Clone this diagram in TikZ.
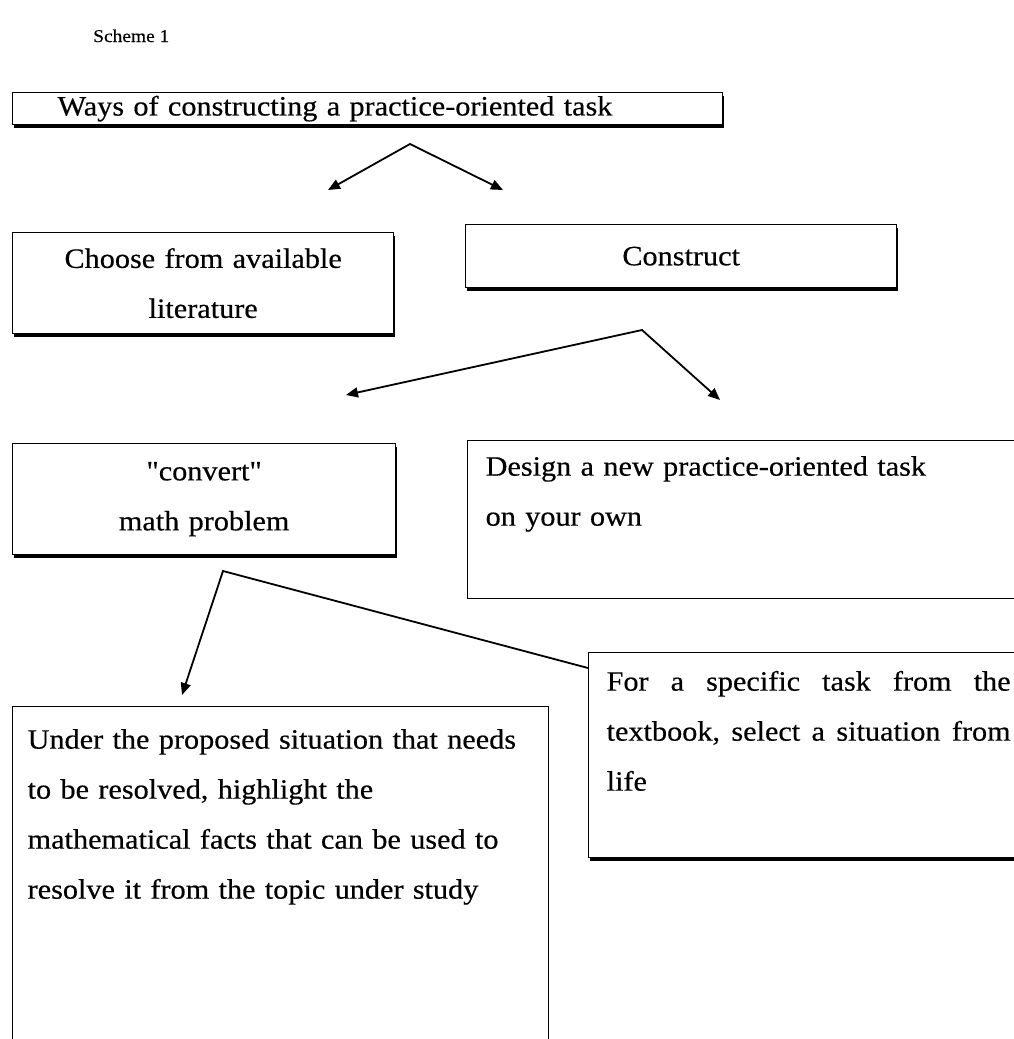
\documentclass[tikz,border=0pt]{standalone}
\usepackage{fontspec}
\setmainfont{Liberation Serif}[FakeStretch=1.08, FakeBold=0.4, Ligatures=TeXOff]
\usepackage{tikz}
\usetikzlibrary{arrows.meta,shadows}
\newcommand{\boxfont}{\fontsize{28}{50}\selectfont}
\tikzset{
  box/.style ={draw=black, fill=white, line width=1.3pt, inner ysep=0pt, font=\boxfont, anchor=north west},
  sbox/.style={box, drop shadow={shadow xshift=1pt, shadow yshift=-3pt, fill=black, opacity=1}},
  edge/.style={line width=1.8pt, line join=miter},
  tips/.style={{Triangle[length=12pt,width=10pt]}-{Triangle[length=12pt,width=10pt]}},
  tipl/.style={{Triangle[length=12pt,width=10pt]}-},
}

\begin{document}
\begin{tikzpicture}[x=1pt, y=-1pt]
  \useasboundingbox (0,0) rectangle (1014,1039);
  \clip (0,0) rectangle (1014,1039);

  \node[font=\fontsize{18}{22}\selectfont, anchor=base west, inner sep=0pt] (title) at (93,42) {Scheme 1};

  % top level
  \node[sbox, minimum width=710pt, minimum height=32pt, inner xsep=45pt, text width=620pt, align=left] (ways) at (12,92) {Ways of constructing a practice-oriented task};
  \coordinate (f1)  at (410,144);
  \coordinate (f1l) at (328,190);
  \coordinate (f1r) at (503,190);

  % choose / construct
  \node[sbox, minimum width=381pt, minimum height=101pt, inner xsep=0pt, text width=381pt, align=center] (choose) at (12,232) {Choose from available\\literature};
  \node[sbox, minimum width=431pt, minimum height=63pt, inner xsep=0pt, text width=431pt, align=center] (constr) at (465,224) {Construct};
  \coordinate (f2)  at (642,330);
  \coordinate (f2l) at (346,395);
  \coordinate (f2r) at (720,400);

  % convert / design
  \node[sbox, minimum width=383pt, minimum height=111pt, inner xsep=0pt, text width=383pt, align=center] (conv) at (12,443) {"convert"\\math problem};
  \node[box, inner xsep=18pt, text width=564pt, text height=35pt, text depth=123pt, align=left] (design) at (467,440) {Design a new practice-oriented task\\on your own};
  \coordinate (f3)  at (223,571);
  \coordinate (f3l) at (182,695);

  % bottom row
  \node[sbox, inner xsep=18pt, text width=414pt, text height=38pt, text depth=167pt, align=left] (sel) at (588,652) {\makebox[404pt][l]{For\hfill a\hfill specific\hfill task\hfill from\hfill the}\\\makebox[404pt][l]{textbook,\hfill select\hfill a\hfill situation\hfill from}\\life};
  \node[box, inner xsep=15pt, text width=506pt, text height=42pt, text depth=312pt, align=left] (under) at (12,706) {Under the proposed situation that needs\\to be resolved, highlight the\\mathematical facts that can be used to\\resolve it from the topic under study};

  \draw[edge, tips] (f1l) -- (f1) -- (f1r);
  \draw[edge, tips] (f2l) -- (f2) -- (f2r);
  \draw[edge, tipl] (f3l) -- (f3) -- ([yshift=-16pt]sel.north west);
\end{tikzpicture}
\end{document}
